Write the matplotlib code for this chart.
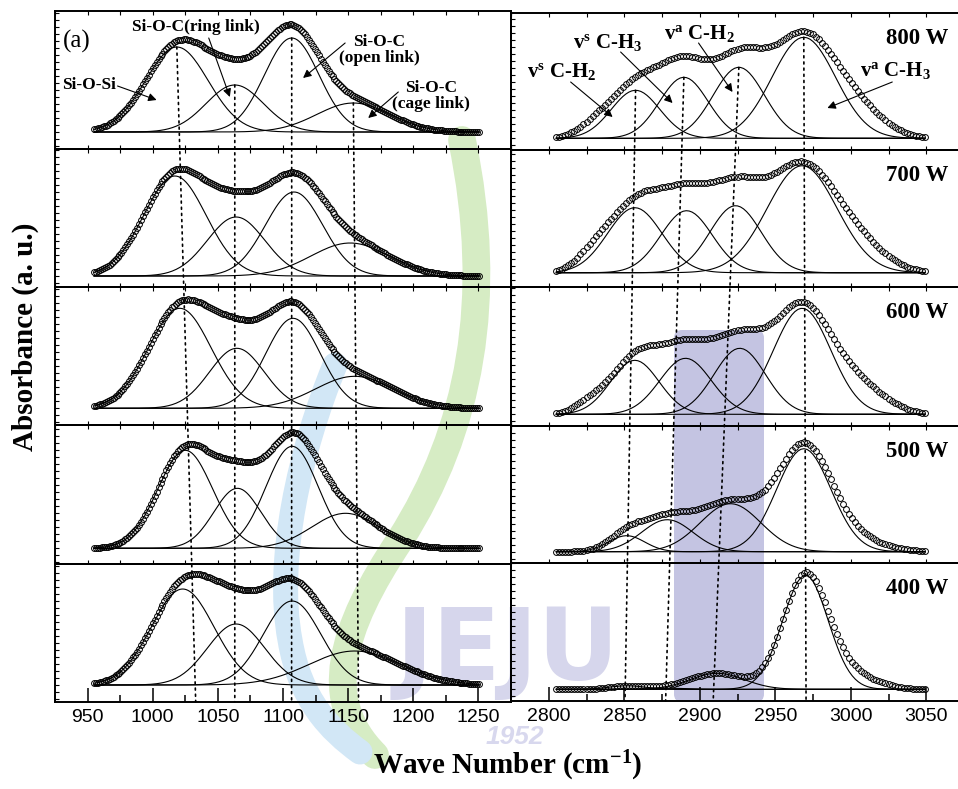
import numpy as np
import matplotlib.pyplot as plt
from matplotlib.patches import ConnectionPatch, FancyBboxPatch, PathPatch
from matplotlib.path import Path
from matplotlib.ticker import MultipleLocator

plt.rcParams['font.family'] = 'Liberation Serif'
plt.rcParams['mathtext.fontset'] = 'custom'
plt.rcParams['mathtext.rm'] = 'Liberation Serif:bold'
plt.rcParams['mathtext.bf'] = 'Liberation Serif:bold'
plt.rcParams['mathtext.it'] = 'Liberation Serif:bold'

powers = ['800 W', '700 W', '600 W', '500 W', '400 W']

# Si-O region peaks: Si-O-Si, Si-O-C ring, Si-O-C open, Si-O-C cage
si_center = [[1018.5, 1063, 1106.7, 1154],
             [1017, 1064, 1108.5, 1151.5],
             [1020.8, 1064.6, 1107.7, 1155],
             [1025, 1065, 1107, 1148],
             [1023, 1064, 1107, 1155]]
si_height = [[0.85, 0.47, 0.94, 0.29],
             [1.00, 0.59, 0.84, 0.33],
             [1.00, 0.60, 0.90, 0.32],
             [0.98, 0.60, 1.02, 0.35],
             [0.96, 0.61, 0.84, 0.34]]
si_sigma = [[24, 22, 21, 28],
            [24, 22, 22, 30],
            [24, 21, 21, 30],
            [21, 18, 20, 26],
            [24, 22, 22, 35]]

# C-H stretching peaks: vs CH2, vs CH3, va CH2, va CH3
ch_center = [[2857.5, 2889.5, 2925.9, 2968.9],
             [2857, 2891.3, 2923.7, 2967.8],
             [2857, 2890.6, 2926.5, 2967.8],
             [2851.6, 2878.5, 2920.4, 2968.9],
             [2852, 2880, 2911.6, 2970]]
ch_height = [[0.48, 0.61, 0.71, 1.01],
             [0.65, 0.62, 0.67, 1.07],
             [0.54, 0.56, 0.66, 1.06],
             [0.16, 0.32, 0.48, 1.03],
             [0.035, 0.01, 0.16, 1.14]]
ch_sigma = [[16, 16, 17, 21],
            [18, 17, 17, 23],
            [16, 17, 17, 19],
            [12, 17, 20, 18],
            [12, 12, 18, 15]]
# part of the measured C-H band left outside the fit (low, middle, high side)
ch_resid_center = [[2832, 2885, 3005], [2830, 2885, 3007], [2828, 2895, 3005],
                   [2830, 2890, 3000], [2830, 2890, 3000]]
ch_resid_height = [[0.12, 0.08, 0.24], [0.13, 0.06, 0.20], [0.10, 0.065, 0.27],
                   [0.0, 0.0, 0.125], [0.0, 0.0, 0.14]]
ch_resid_sigma = [[12, 25, 18], [11, 25, 18], [10, 22, 18],
                  [10, 22, 20], [10, 22, 17]]

# dotted guides: peak positions in the 400 W panel
si_guide_bottom = [1033, 1063, 1106.6, 1158]
ch_guide_bottom = [2850.5, 2877.4, 2908.9, 2970.4]

si_x = np.arange(955, 1251, 1.5)
ch_x = np.arange(2805, 3051, 2.0)


def gauss(x, c, h, s):
    return h * np.exp(-(x - c) ** 2 / (2 * s ** 2))


W, H = 958, 789
fig = plt.figure(figsize=(W / 100, H / 100), dpi=100)


def rect(x0, y0, x1, y1):
    return [x0 / W, 1 - y1 / H, (x1 - x0) / W, (y1 - y0) / H]


# faint library watermark behind the panels (pixel coordinates)
bg = fig.add_axes([0, 0, 1, 1], zorder=-5)
bg.set_xlim(0, W)
bg.set_ylim(H, 0)
bg.axis('off')
C4 = Path.CURVE4
green = Path([(462, 140), (495, 300), (470, 430), (400, 540),
              (340, 630), (320, 700), (375, 755)],
             [Path.MOVETO, C4, C4, C4, C4, C4, C4])
blue = Path([(335, 365), (300, 450), (275, 560), (290, 640),
             (300, 700), (330, 730), (360, 752)],
            [Path.MOVETO, C4, C4, C4, C4, C4, C4])
bg.add_patch(PathPatch(green, fill=False, ec='#d6ecc4', lw=20, capstyle='round'))
bg.add_patch(PathPatch(blue, fill=False, ec='#d2e7f6', lw=18, capstyle='round'))
bg.add_patch(FancyBboxPatch((674, 330), 90, 372, boxstyle='round,pad=0,rounding_size=8',
                            fc='#c4c4e2', ec='none'))
bg.text(508, 652, 'JEJU', fontsize=72, fontweight='bold', family='Liberation Sans Narrow',
        color='#d6d6ec', ha='center', va='center')
bg.text(515, 737, '1952', fontsize=19, fontweight='bold', family='Liberation Sans',
        color='#d8d8ee', ha='center', va='center', style='italic')

left_rows = [11, 148.7, 286.7, 425, 564, 702]
right_rows = [13, 150, 287, 426, 563.3, 701]
left_base = [16.7, 10.7, 16.7, 15.7, 17]
right_base = [11.7, 14.3, 11.7, 11.6, 11.7]

ax_l, ax_r = [], []
for i in range(5):
    for side in ('l', 'r'):
        if side == 'l':
            ax = fig.add_axes(rect(55, left_rows[i], 511, left_rows[i + 1]))
            hpx = left_rows[i + 1] - left_rows[i]
            b = left_base[i]
            ax.set_xlim(925, 1275)
            x = si_x
            comps = [gauss(x, c, h, s) for c, h, s in
                     zip(si_center[i], si_height[i], si_sigma[i])]
            meas = np.sum(comps, axis=0)
            ax_l.append(ax)
        else:
            ax = fig.add_axes(rect(511, right_rows[i], 964, right_rows[i + 1]))
            hpx = right_rows[i + 1] - right_rows[i]
            b = right_base[i]
            ax.set_xlim(2775, 3075)
            x = ch_x
            comps = [gauss(x, c, h, s) for c, h, s in
                     zip(ch_center[i], ch_height[i], ch_sigma[i])]
            meas = np.sum(comps, axis=0)
            for c, h, s in zip(ch_resid_center[i], ch_resid_height[i], ch_resid_sigma[i]):
                meas = meas + gauss(x, c, h, s)
            ax.text(0.965, 0.89, powers[i], transform=ax.transAxes, ha='right',
                    va='top', fontsize=16.5, fontweight='bold')
            ax_r.append(ax)
        ax.set_ylim(-b / 100, (hpx - b) / 100)
        ax.patch.set_alpha(0)
        for comp in comps:
            ax.plot(x, comp, color='black', lw=0.8)
        ax.plot(x, meas, linestyle='none', marker='o', ms=4.2, mfc='none',
                mec='black', mew=0.7)
        ax.xaxis.set_major_locator(MultipleLocator(50))
        ax.xaxis.set_minor_locator(MultipleLocator(25))
        ax.yaxis.set_major_locator(MultipleLocator(0.07))
        ax.set_yticklabels([])
        ax.tick_params(axis='y', which='both', direction='in', length=3, width=0.8,
                       left=True, right=False)
        ax.tick_params(axis='x', which='both', direction='in', top=True,
                       bottom=True, length=3, width=0.8)
        for sp in ax.spines.values():
            sp.set_linewidth(1.4)
        if i < 4:
            ax.set_xticklabels([])
        else:
            ax.tick_params(axis='x', which='major', length=10, width=1.1, top=False)
            ax.tick_params(axis='x', which='minor', length=5, width=1.1, top=False)
            ax.tick_params(axis='x', labelsize=14, pad=5)
            for lab in ax.get_xticklabels():
                lab.set_family('Liberation Sans')

# slanted dotted guides through the peak positions
for ax_top, ax_bot, cs, hs, bottoms in ((ax_l[0], ax_l[4], si_center[0], si_height[0], si_guide_bottom),
                                        (ax_r[0], ax_r[4], ch_center[0], ch_height[0], ch_guide_bottom)):
    y_bot = ax_bot.get_ylim()[0]
    for c, h, xb in zip(cs, hs, bottoms):
        con = ConnectionPatch(xyA=(c, h), coordsA=ax_top.transData,
                              xyB=(xb, y_bot), coordsB=ax_bot.transData,
                              linestyle=(0, (1.2, 2.5)), lw=1.2, color='black')
        fig.add_artist(con)

# band assignments
arrow = dict(arrowstyle='-|>', color='black', lw=0.8, mutation_scale=12,
             shrinkA=0, shrinkB=0)
ax = ax_l[0]
ax.text(930.8, 0.91, '(a)', fontsize=18, ha='left', va='center')
ax.text(950.8, 0.47, 'Si-O-Si', ha='center', va='center', fontsize=12.5,
        fontweight='bold')
ax.annotate('', xy=(1003, 0.32), xytext=(973, 0.46), arrowprops=arrow)
ax.text(1033.5, 1.05, 'Si-O-C(ring link)', ha='center', va='center', fontsize=12.5,
        fontweight='bold')
ax.annotate('', xy=(1059.2, 0.35), xytext=(1043, 0.94), arrowprops=arrow)
ax.text(1173.8, 0.82, 'Si-O-C\n(open link)', ha='center', va='center', fontsize=12.5,
        fontweight='bold', linespacing=1.0)
ax.annotate('', xy=(1115.4, 0.54), xytext=(1147.7, 0.89), arrowprops=arrow)
ax.text(1213.8, 0.36, 'Si-O-C\n(cage link)', ha='center', va='center', fontsize=12.5,
        fontweight='bold', linespacing=1.0)
ax.annotate('', xy=(1165.4, 0.14), xytext=(1188.5, 0.40), arrowprops=arrow)

ax = ax_r[0]
ax.text(2838.7, 0.958, r'v$^{s}$ C-H$_{3}$', ha='center', va='center', fontsize=15,
        fontweight='bold')
ax.annotate('', xy=(2882, 0.353), xytext=(2847.6, 0.863), arrowprops=arrow)
ax.text(2899.9, 1.043, r'v$^{a}$ C-H$_{2}$', ha='center', va='center', fontsize=15,
        fontweight='bold')
ax.annotate('', xy=(2921.7, 0.463), xytext=(2899.2, 0.953), arrowprops=arrow)
ax.text(2808.3, 0.668, r'v$^{s}$ C-H$_{2}$', ha='center', va='center', fontsize=15,
        fontweight='bold')
ax.annotate('', xy=(2842.3, 0.213), xytext=(2814.5, 0.563), arrowprops=arrow)
ax.text(3029.5, 0.678, r'v$^{a}$ C-H$_{3}$', ha='center', va='center', fontsize=15,
        fontweight='bold')
ax.annotate('', xy=(2984.5, 0.303), xytext=(3027.5, 0.563), arrowprops=arrow)

fig.text(25 / W, 1 - 337 / H, 'Absorbance (a. u.)', rotation=90, ha='center',
         va='center', fontsize=21, fontweight='bold')
fig.text(508 / W, 1 - 766 / H, r'Wave Number (cm$^{\mathbf{-1}}$)', ha='center',
         va='center', fontsize=21, fontweight='bold')

fig.savefig('out.png', dpi=100)
